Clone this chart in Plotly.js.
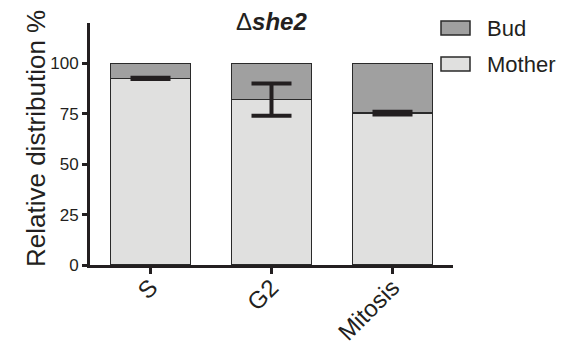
<!DOCTYPE html>
<html>
<head>
<meta charset="utf-8">
<script src="https://cdn.plot.ly/plotly-3.0.1.min.js"></script>
<style>html,body{margin:0;padding:0;background:#fff;}#chart{width:571px;height:360px;}</style>
</head>
<body>
<div id="chart"></div>
<script>
const categories = ["S", "G2", "Mitosis"];
const motherValues = [92.5, 82.0, 75.3];
const motherErrors = [0.3, 8.0, 0.7];
const budValues = [7.5, 18.0, 24.7];
const seriesNames = ["Bud", "Mother"];
const yTickValues = [0, 25, 50, 75, 100];
const titleText = "Δ<b><i>she2</i></b>";
const yTitleText = "Relative distribution %";

const FONT = "Liberation Sans, Arial, sans-serif";
const DARK = "#231f20";
const BUD_COLOR = "#a0a0a0";
const MOTHER_COLOR = "#e0e0df";

const traces = [
  {
    type: "bar", name: seriesNames[1], x: categories, y: motherValues,
    marker: {color: MOTHER_COLOR, line: {color: "#2a2a2a", width: 1.5}},
    width: 0.66, showlegend: false, hoverinfo: "skip"
  },
  {
    type: "bar", name: seriesNames[0], x: categories, y: budValues,
    marker: {color: BUD_COLOR, line: {color: "#2a2a2a", width: 1.5}},
    width: 0.66, showlegend: false, hoverinfo: "skip"
  },
  {
    type: "scatter", mode: "markers", x: categories, y: motherValues,
    marker: {opacity: 0, size: 1},
    error_y: {type: "data", array: motherErrors, visible: true, color: DARK, thickness: 4, width: 20},
    showlegend: false, hoverinfo: "skip"
  }
];

const plotLeft = 90, plotRight = 453, plotTop = 23, plotBottom = 265;
const pw = plotRight - plotLeft, ph = plotBottom - plotTop;
const px = v => (v - plotLeft) / pw;
const py = v => (plotBottom - v) / ph;

const legendColors = [BUD_COLOR, MOTHER_COLOR];
const legendTops = [21, 57];
const shapes = [];
const annotations = [];
seriesNames.forEach((n, i) => {
  shapes.push({
    type: "rect", xref: "paper", yref: "paper",
    x0: px(441), x1: px(470), y0: py(legendTops[i] + 14), y1: py(legendTops[i]),
    fillcolor: legendColors[i], line: {color: "#2a2a2a", width: 1.5}
  });
  annotations.push({
    xref: "paper", yref: "paper", x: px(485), y: py(legendTops[i] + 7),
    xanchor: "left", yanchor: "middle", showarrow: false, text: n,
    font: {family: FONT, size: 22, color: DARK}
  });
});
annotations.push({
  xref: "paper", yref: "paper", x: px(271), y: py(22), xanchor: "center", yanchor: "middle",
  showarrow: false, text: titleText, font: {family: FONT, size: 24, color: DARK}
});
annotations.push({
  xref: "paper", yref: "paper", x: px(36), y: py(139), xanchor: "center", yanchor: "middle",
  showarrow: false, textangle: -90, text: yTitleText, font: {family: FONT, size: 26, color: DARK}
});

const layout = {
  width: 571, height: 360,
  margin: {l: plotLeft, r: 571 - plotRight, t: plotTop, b: 360 - plotBottom, pad: 0},
  paper_bgcolor: "#fff", plot_bgcolor: "#fff",
  barmode: "stack", showlegend: false,
  font: {family: FONT, color: DARK},
  xaxis: {
    range: [-0.5, 2.5], showgrid: false, zeroline: false,
    showline: true, linecolor: DARK, linewidth: 3,
    ticks: "outside", ticklen: 6, tickwidth: 3, tickcolor: DARK,
    tickangle: -45, ticklabelstandoff: -10,
    tickfont: {family: FONT, size: 24, color: DARK},
    fixedrange: true
  },
  yaxis: {
    range: [0, 120], showgrid: false, zeroline: false,
    showline: true, linecolor: DARK, linewidth: 3,
    ticks: "outside", ticklen: 5, tickwidth: 3, tickcolor: DARK,
    tickvals: yTickValues, ticktext: yTickValues.map(String),
    tickfont: {family: FONT, size: 17, color: DARK},
    fixedrange: true
  },
  shapes: shapes,
  annotations: annotations
};

Plotly.newPlot("chart", traces, layout, {displayModeBar: false, staticPlot: true});
</script>
</body>
</html>
